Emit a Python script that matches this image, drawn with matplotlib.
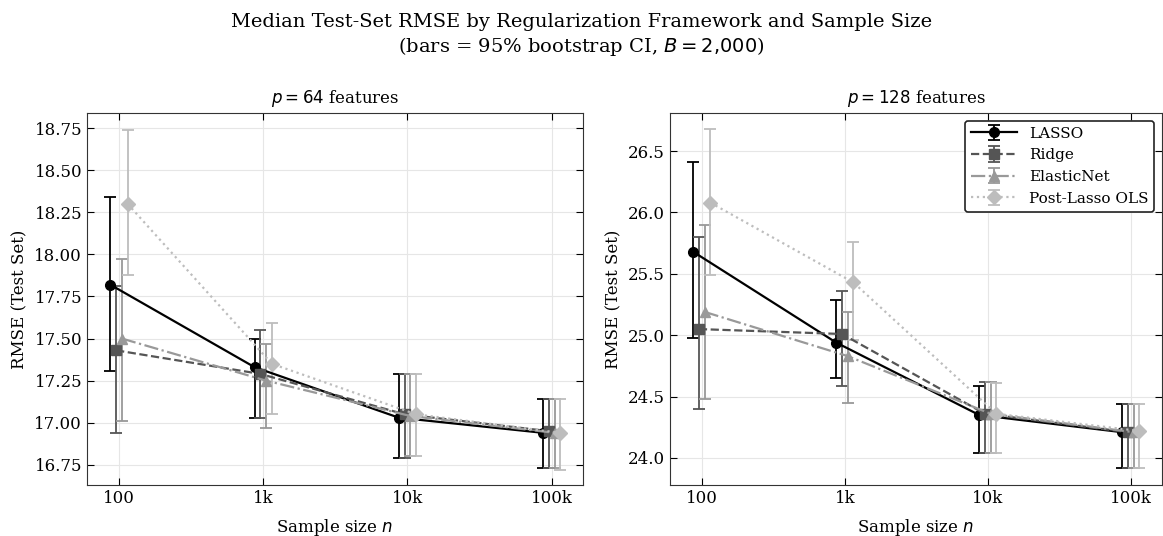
import numpy as np
import matplotlib
matplotlib.use("Agg")
import matplotlib.pyplot as plt

plt.rcParams["font.family"] = "DejaVu Serif"
plt.rcParams["mathtext.fontset"] = "dejavusans"

n_sizes = [100, 1000, 10000, 100000]
n_labels = ["100", "1k", "10k", "100k"]
methods = ["LASSO", "Ridge", "ElasticNet", "Post-Lasso OLS"]

# p = 64: median, CI low, CI high
p64_med = {"LASSO": [17.82, 17.33, 17.03, 16.94],
           "Ridge": [17.43, 17.29, 17.05, 16.95],
           "ElasticNet": [17.50, 17.25, 17.04, 16.94],
           "Post-Lasso OLS": [18.30, 17.35, 17.05, 16.94]}
p64_lo = {"LASSO": [17.31, 17.03, 16.79, 16.73],
          "Ridge": [16.94, 17.03, 16.79, 16.73],
          "ElasticNet": [17.01, 16.97, 16.80, 16.73],
          "Post-Lasso OLS": [17.88, 17.05, 16.80, 16.72]}
p64_hi = {"LASSO": [18.34, 17.50, 17.29, 17.14],
          "Ridge": [17.81, 17.55, 17.29, 17.14],
          "ElasticNet": [17.97, 17.47, 17.29, 17.14],
          "Post-Lasso OLS": [18.74, 17.59, 17.29, 17.14]}

# p = 128
p128_med = {"LASSO": [25.68, 24.94, 24.35, 24.21],
            "Ridge": [25.05, 25.01, 24.36, 24.21],
            "ElasticNet": [25.19, 24.83, 24.36, 24.21],
            "Post-Lasso OLS": [26.08, 25.43, 24.36, 24.22]}
p128_lo = {"LASSO": [24.98, 24.65, 24.04, 23.92],
           "Ridge": [24.40, 24.59, 24.04, 23.92],
           "ElasticNet": [24.48, 24.45, 24.04, 23.92],
           "Post-Lasso OLS": [25.49, 24.96, 24.04, 23.92]}
p128_hi = {"LASSO": [26.41, 25.29, 24.59, 24.44],
           "Ridge": [25.80, 25.36, 24.62, 24.44],
           "ElasticNet": [25.90, 25.19, 24.62, 24.44],
           "Post-Lasso OLS": [26.68, 25.76, 24.61, 24.44]}

styles = {"LASSO": ("#000000", "-", "o"),
          "Ridge": ("#555555", "--", "s"),
          "ElasticNet": ("#999999", "-.", "^"),
          "Post-Lasso OLS": ("#bdbdbd", ":", "D")}
offsets = [-0.06, -0.02, 0.02, 0.06]  # log10 dodge

W, H = 1163, 536
fig = plt.figure(figsize=(W / 100, H / 100), dpi=100)
bot, top = 1 - 485 / H, 1 - 113 / H
axs = [fig.add_axes([87 / W, bot, 496 / W, top - bot]),
       fig.add_axes([670 / W, bot, 492 / W, top - bot])]
panels = [(axs[0], "$p = 64$ features", p64_med, p64_lo, p64_hi, (16.63, 18.84)),
          (axs[1], "$p = 128$ features", p128_med, p128_lo, p128_hi, (23.78, 26.81))]

for ax, title, med, lo, hi, ylim in panels:
    for k, m in enumerate(methods):
        col, ls, mk = styles[m]
        x = np.array(n_sizes) * 10 ** offsets[k]
        y = np.array(med[m])
        err = [y - np.array(lo[m]), np.array(hi[m]) - y]
        ax.errorbar(x, y, yerr=err, color=col, ls=ls, marker=mk, ms=7,
                    lw=1.6, capsize=4, elinewidth=1.3, capthick=1.3, label=m)
    ax.set_xscale("log")
    ax.set_xlim(60, 1.65e5)
    ax.set_ylim(*ylim)
    ax.set_xticks(n_sizes)
    ax.set_xticklabels(n_labels)
    ax.minorticks_off()
    ax.tick_params(direction="in", top=True, right=True, labelsize=12, length=5)
    ax.grid(True, color="#e6e6e6", lw=0.8)
    ax.set_axisbelow(True)
    ax.set_title(title, fontsize=12, pad=7)
    ax.set_xlabel("Sample size $n$", fontsize=12, labelpad=7)
    ax.set_ylabel("RMSE (Test Set)", fontsize=12)
    for s in ax.spines.values():
        s.set_color("#333333")

axs[1].yaxis.set_major_locator(matplotlib.ticker.MultipleLocator(0.5))
axs[0].yaxis.set_major_locator(matplotlib.ticker.MultipleLocator(0.25))
axs[0].yaxis.set_major_formatter(matplotlib.ticker.FormatStrFormatter("%.2f"))
axs[1].yaxis.set_major_formatter(matplotlib.ticker.FormatStrFormatter("%.1f"))

leg = axs[1].legend(loc="upper right", fontsize=11, framealpha=1,
                    edgecolor="#222222", handlelength=3)
leg.get_frame().set_linewidth(1.2)

fig.suptitle("Median Test-Set RMSE by Regularization Framework and Sample Size\n"
             "(bars = 95% bootstrap CI, $B = 2{,}000$)", fontsize=14, y=0.975)
fig.savefig("out.png", dpi=100)
